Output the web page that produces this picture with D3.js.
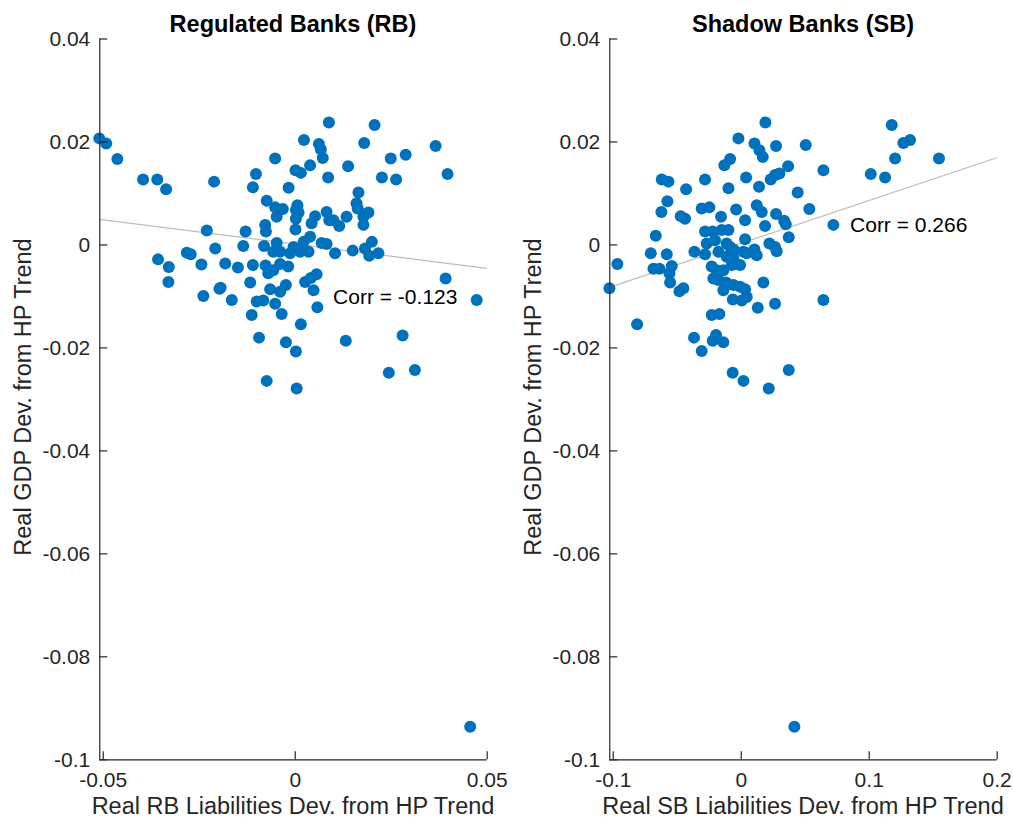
<!DOCTYPE html>
<html>
<head>
<meta charset="utf-8">
<script src="https://cdn.jsdelivr.net/npm/d3@7"></script>
<style>
    body { margin: 0; background: #fff; }
    text { font-family: "Liberation Sans", Arial, Helvetica, sans-serif; fill: #262626; }
</style>
</head>
<body>
<svg id="chart" width="1013" height="820"></svg>
<script>
// Regulated banks: [liabilities dev, GDP dev]
let rb_points = [
    [-0.0509, 0.0206], [-0.0491, 0.0196], [-0.0462, 0.0166], [-0.0395, 0.0126], [-0.0358, 0.0126],
    [-0.0335, 0.0107], [-0.0210, 0.0122], [-0.0101, 0.0137], [-0.0109, 0.0111], [-0.0051, 0.0167],
    [0.0024, 0.0203], [0.0089, 0.0237], [0.0208, 0.0232], [0.0063, 0.0195], [0.0068, 0.0185],
    [0.0073, 0.0168], [0.0040, 0.0154], [0.0002, 0.0144], [0.0016, 0.0139], [-0.0016, 0.0110],
    [0.0087, 0.0130], [0.0139, 0.0152], [0.0181, 0.0197], [0.0250, 0.0167], [0.0289, 0.0174],
    [0.0227, 0.0130], [0.0264, 0.0126], [0.0367, 0.0191], [0.0398, 0.0137], [0.0166, 0.0101],
    [0.0161, 0.0080], [0.0164, 0.0070], [0.0179, 0.0054], [0.0192, 0.0062], [0.0179, 0.0038],
    [0.0135, 0.0054], [0.0116, 0.0036], [0.0101, 0.0047], [0.0083, 0.0063], [0.0090, 0.0047],
    [0.0053, 0.0055], [0.0044, 0.0041], [0.0007, 0.0076], [0.0003, 0.0067], [0.0010, 0.0062],
    [0.0003, 0.0050], [0.0002, 0.0029], [-0.0073, 0.0085], [-0.0051, 0.0072], [-0.0031, 0.0069],
    [-0.0047, 0.0054], [-0.0077, 0.0038], [-0.0075, 0.0025], [-0.0128, 0.0025], [-0.0229, 0.0027],
    [0.0040, 0.0015], [0.0023, 0.0005], [0.0070, 0.0003], [0.0083, 0.0001], [0.0105, -0.0017],
    [0.0151, -0.0012], [0.0201, 0.0005], [0.0183, -0.0008], [0.0194, -0.0022], [0.0218, -0.0017],
    [-0.0047, 0.0003], [-0.0080, -0.0003], [-0.0056, -0.0014], [-0.0038, -0.0014], [-0.0012, -0.0017],
    [-0.0003, -0.0005], [0.0014, -0.0014], [0.0036, -0.0014], [-0.0134, -0.0003], [-0.0207, -0.0008],
    [-0.0281, -0.0016], [-0.0271, -0.0019], [-0.0356, -0.0029], [-0.0328, -0.0044], [-0.0329, -0.0073],
    [-0.0243, -0.0039], [-0.0181, -0.0037], [-0.0148, -0.0045], [-0.0109, -0.0040], [-0.0076, -0.0041],
    [-0.0069, -0.0056], [-0.0056, -0.0050], [-0.0038, -0.0038], [-0.0017, -0.0043], [-0.0116, -0.0074],
    [-0.0193, -0.0084], [-0.0196, -0.0086], [-0.0238, -0.0100], [-0.0164, -0.0108], [-0.0099, -0.0111],
    [-0.0082, -0.0109], [-0.0064, -0.0087], [-0.0051, -0.0115], [-0.0038, -0.0092], [-0.0023, -0.0079],
    [0.0027, -0.0073], [0.0042, -0.0065], [0.0057, -0.0058], [0.0049, -0.0089], [0.0059, -0.0122],
    [-0.0034, -0.0135], [-0.0112, -0.0137], [0.0016, -0.0155], [-0.0093, -0.0181], [-0.0023, -0.0190],
    [0.0003, -0.0208], [0.0133, -0.0187], [0.0281, -0.0177], [0.0245, -0.0249], [0.0313, -0.0244],
    [-0.0073, -0.0265], [0.0005, -0.0280], [0.0393, -0.0066], [0.0474, -0.0108], [0.0457, -0.0937]
];

// Shadow banks: [liabilities dev, GDP dev]
let sb_points = [
    [-0.1026, -0.0085], [-0.0964, -0.0038], [-0.0810, -0.0155], [-0.0664, 0.0017], [-0.0703, -0.0017],
    [-0.0682, -0.0047], [-0.0635, -0.0047], [-0.0578, -0.0019], [-0.0539, -0.0042], [-0.0557, -0.0056],
    [-0.0552, -0.0074], [-0.0479, -0.0091], [-0.0448, -0.0085], [-0.0617, 0.0126], [-0.0565, 0.0122],
    [-0.0573, 0.0084], [-0.0620, 0.0063], [-0.0427, 0.0107], [-0.0469, 0.0055], [-0.0435, 0.0050],
    [-0.0279, 0.0126], [-0.0305, 0.0070], [-0.0245, 0.0072], [-0.0154, 0.0054], [-0.0128, 0.0154],
    [-0.0083, 0.0166], [-0.0096, 0.0109], [-0.0018, 0.0206], [0.0107, 0.0196], [0.0146, 0.0183],
    [0.0172, 0.0170], [0.0193, 0.0237], [0.0276, 0.0191], [0.0042, 0.0130], [0.0143, 0.0112],
    [0.0234, 0.0126], [0.0268, 0.0135], [0.0302, 0.0138], [0.0370, 0.0152], [0.0508, 0.0193],
    [0.0445, 0.0101], [0.0536, 0.0069], [0.0646, 0.0144], [0.0724, 0.0038], [0.1016, 0.0137],
    [0.1128, 0.0130], [0.1180, 0.0232], [0.1206, 0.0167], [0.1271, 0.0197], [0.1323, 0.0203],
    [0.1549, 0.0167], [0.0646, -0.0108], [-0.0036, 0.0068], [0.0034, 0.0047], [0.0125, 0.0076],
    [0.0164, 0.0063], [0.0190, 0.0036], [0.0276, 0.0059], [0.0339, 0.0046], [0.0352, 0.0039],
    [0.0375, 0.0014], [0.0224, 0.0002], [0.0268, -0.0005], [0.0281, -0.0013], [0.0177, -0.0074],
    [0.0268, -0.0115], [0.0133, -0.0123], [0.0125, -0.0021], [0.0107, -0.0010], [0.0034, 0.0010],
    [0.0021, -0.0014], [0.0047, -0.0017], [-0.0005, -0.0040], [-0.0070, -0.0040], [-0.0096, 0.0028],
    [-0.0148, 0.0028], [-0.0219, 0.0025], [-0.0279, 0.0025], [-0.0266, 0.0002], [-0.0201, 0.0008],
    [-0.0174, -0.0014], [-0.0110, 0.0002], [-0.0083, -0.0005], [-0.0052, -0.0011], [-0.0057, -0.0027],
    [-0.0110, -0.0024], [-0.0279, -0.0019], [-0.0362, -0.0014], [-0.0227, -0.0043], [-0.0188, -0.0050],
    [-0.0136, -0.0050], [-0.0214, -0.0066], [-0.0174, -0.0069], [-0.0115, -0.0074], [-0.0057, -0.0079],
    [-0.0005, -0.0082], [0.0034, -0.0087], [-0.0136, -0.0089], [-0.0062, -0.0107], [0.0008, -0.0109],
    [0.0047, -0.0102], [-0.0227, -0.0137], [-0.0167, -0.0135], [-0.0365, -0.0181], [-0.0193, -0.0176],
    [-0.0219, -0.0187], [-0.0136, -0.0190], [-0.0305, -0.0207], [-0.0063, -0.0249], [0.0021, -0.0265],
    [0.0219, -0.0280], [0.0375, -0.0244], [0.0419, -0.0937]
];

// fitted lines: [slope, intercept]
let rb_fit = [-0.0943, 0.00008];
let sb_fit = [0.0832, 0.0002];

let rb_corr = 'Corr = -0.123';
let sb_corr = 'Corr = 0.266';

let y_ticks = [-0.1, -0.08, -0.06, -0.04, -0.02, 0, 0.02, 0.04];
let rb_x_ticks = [-0.05, 0, 0.05];
let sb_x_ticks = [-0.1, 0, 0.1, 0.2];

let svg = d3.select('#chart');

function fmt(v) {
    if (v === 0) return '0';
    return String(+v.toFixed(3));
}

function draw_panel(opt) {
    let x = d3.scaleLinear().domain(opt.xlim).range([opt.left, opt.right]);
    let y = d3.scaleLinear().domain([-0.1, 0.04]).range([759.3, 38.5]);

    let g = svg.append('g');

    // fit line
    let fx = opt.xlim;
    g.append('line')
        .attr('x1', x(fx[0]))
        .attr('x2', x(fx[1]))
        .attr('y1', y(opt.fit[1] + opt.fit[0] * fx[0]))
        .attr('y2', y(opt.fit[1] + opt.fit[0] * fx[1]))
        .attr('stroke', '#bdbdbd')
        .attr('stroke-width', 1.2);

    g.selectAll('.dot')
        .data(opt.points)
        .enter()
        .append('circle')
        .attr('cx', (d) => x(d[0]))
        .attr('cy', (d) => y(d[1]))
        .attr('r', 6)
        .style('fill', '#0072BD');

    // axes (MATLAB style: ticks inward, box off)
    let xa = g.append('g')
        .attr('transform', 'translate(0,759.3)')
        .call(d3.axisBottom(x).tickValues(opt.xticks).tickSize(-8).tickPadding(13).tickFormat(fmt));
    let ya = g.append('g')
        .attr('transform', 'translate(' + opt.left + ',0)')
        .call(d3.axisLeft(y).tickValues(y_ticks).tickSize(-8).tickPadding(9).tickFormat(fmt));

    [xa, ya].forEach(function (a) {
        a.select('.domain').attr('stroke', '#262626').attr('stroke-width', 1.2);
        a.selectAll('.tick line').attr('stroke', '#262626').attr('stroke-width', 1.2);
        a.selectAll('.tick text').attr('font-size', '21px').style('fill', '#262626')
            .attr('font-family', '"Liberation Sans", Arial, sans-serif');
    });
    ya.select('.domain').attr('d', 'M0.5,' + y(-0.1) + 'V' + y(0.04));
    xa.select('.domain').attr('d', 'M' + opt.left + ',0.5H' + opt.right);

    g.append('text')
        .attr('x', (opt.left + opt.right) / 2)
        .attr('y', 31.5)
        .attr('text-anchor', 'middle')
        .attr('font-size', '23.5px')
        .attr('font-weight', 'bold')
        .style('fill', '#000')
        .text(opt.title);

    g.append('text')
        .attr('x', (opt.left + opt.right) / 2)
        .attr('y', 814)
        .attr('text-anchor', 'middle')
        .attr('font-size', '23.5px')
        .text(opt.xlabel);

    g.append('text')
        .attr('transform', 'translate(' + (opt.left - 68) + ',397) rotate(-90)')
        .attr('text-anchor', 'middle')
        .attr('font-size', '23.5px')
        .text('Real GDP Dev. from HP Trend');

    g.append('text')
        .attr('x', x(opt.corr_at[0]))
        .attr('y', y(opt.corr_at[1]))
        .attr('dy', '0.35em')
        .attr('font-size', '21px')
        .style('fill', '#000')
        .text(opt.corr);
}

draw_panel({
    points: rb_points, fit: rb_fit, corr: rb_corr, corr_at: [0.01, -0.0102],
    xlim: [-0.0509, 0.05], left: 99.3, right: 486.7, xticks: rb_x_ticks,
    title: 'Regulated Banks (RB)', xlabel: 'Real RB Liabilities Dev. from HP Trend'
});

draw_panel({
    points: sb_points, fit: sb_fit, corr: sb_corr, corr_at: [0.0854, 0.0038],
    xlim: [-0.1027, 0.2], left: 609.3, right: 996.7, xticks: sb_x_ticks,
    title: 'Shadow Banks (SB)', xlabel: 'Real SB Liabilities Dev. from HP Trend'
});
</script>
</body>
</html>
